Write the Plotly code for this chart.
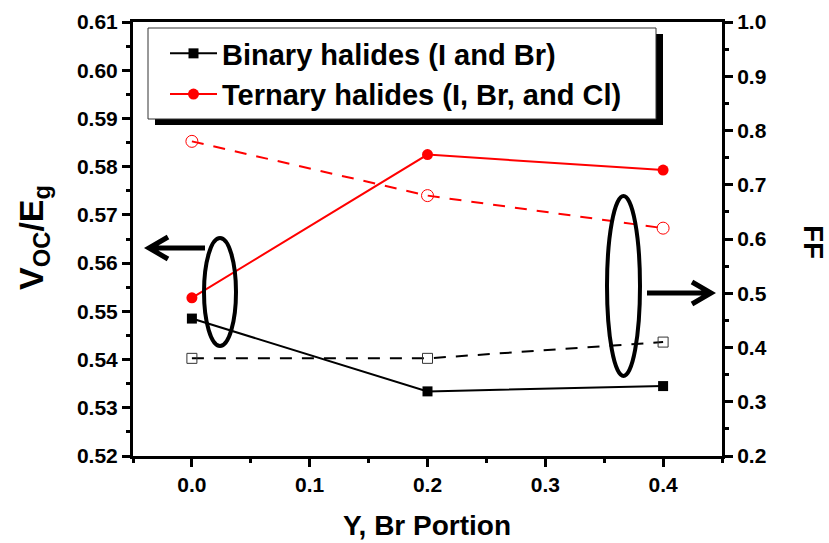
import plotly.graph_objects as go

# ---- data ----
br_portion = [0.0, 0.2, 0.4]
binary_voc_eg = [0.5485, 0.5334, 0.5345]
ternary_voc_eg = [0.5528, 0.5825, 0.5793]
binary_ff = [0.38, 0.38, 0.41]
ternary_ff = [0.78, 0.68, 0.62]
series_names = ["Binary halides (I and Br)", "Ternary halides (I, Br, and Cl)"]
x_ticks = [0.0, 0.1, 0.2, 0.3, 0.4]
x_ticklabels = ["0.0", "0.1", "0.2", "0.3", "0.4"]
left_ticks = [0.52, 0.53, 0.54, 0.55, 0.56, 0.57, 0.58, 0.59, 0.60, 0.61]
left_ticklabels = ["0.52", "0.53", "0.54", "0.55", "0.56", "0.57", "0.58", "0.59", "0.60", "0.61"]
right_ticks = [0.2, 0.3, 0.4, 0.5, 0.6, 0.7, 0.8, 0.9, 1.0]
right_ticklabels = ["0.2", "0.3", "0.4", "0.5", "0.6", "0.7", "0.8", "0.9", "1.0"]

W, H = 829, 543
L, R, T, B = 133, 107, 22, 87
PW, PH = W - L - R, H - T - B

def px(xp):
    return (xp - L) / PW

def py(yp):
    return (H - B - yp) / PH

def bold(labels):
    return [f"<b>{s}</b>" for s in labels]

FONT = "Liberation Sans, Arial, sans-serif"

fig = go.Figure()
fig.add_trace(go.Scatter(
    x=br_portion, y=binary_voc_eg, name=f"<b>{series_names[0]}</b>", mode="lines+markers",
    line=dict(color="black", width=2),
    marker=dict(symbol="square", size=10, color="black"),
    legendgroup="a"))
fig.add_trace(go.Scatter(
    x=br_portion, y=ternary_voc_eg, name=f"<b>{series_names[1]}</b>", mode="lines+markers",
    line=dict(color="#ff0000", width=2),
    marker=dict(symbol="circle", size=11, color="#ff0000"),
    legendgroup="b"))
fig.add_trace(go.Scatter(
    x=br_portion, y=binary_ff, yaxis="y2", mode="lines+markers", showlegend=False,
    line=dict(color="black", width=2, dash="12px,10px"),
    marker=dict(symbol="square-open", size=10, color="#333333", line=dict(width=1))))
fig.add_trace(go.Scatter(
    x=br_portion, y=ternary_ff, yaxis="y2", mode="lines+markers", showlegend=False,
    line=dict(color="#ff0000", width=2, dash="12px,10px"),
    marker=dict(symbol="circle-open", size=12, color="#ff0000", line=dict(width=1))))

def axis_common():
    return dict(showline=True, linecolor="black", linewidth=3, ticks="outside",
                ticklen=8, tickwidth=3, tickcolor="black", showgrid=False,
                zeroline=False, tickfont=dict(family=FONT, size=21, color="black"),
                tickmode="array", automargin=False)

fig.update_layout(
    width=W, height=H,
    margin=dict(l=L, r=R, t=T, b=B),
    font=dict(family=FONT, size=21, color="black"),
    paper_bgcolor="white", plot_bgcolor="white",
    xaxis=dict(range=[-0.05, 0.45], tickvals=x_ticks, ticktext=bold(x_ticklabels),
               mirror=True,
               minor=dict(dtick=0.05, tick0=0, ticklen=4, tickwidth=3, tickcolor="black", ticks="outside"),
               **axis_common()),
    yaxis=dict(range=[0.52, 0.61], tickvals=left_ticks, ticktext=bold(left_ticklabels),
               minor=dict(dtick=0.005, tick0=0.52, ticklen=4, tickwidth=3, tickcolor="black", ticks="outside"),
               **axis_common()),
    yaxis2=dict(range=[0.2, 1.0], tickvals=right_ticks, ticktext=bold(right_ticklabels),
                overlaying="y", side="right", anchor="x",
                minor=dict(dtick=0.05, tick0=0.2, ticklen=4, tickwidth=3, tickcolor="black", ticks="outside"),
                **axis_common()),
    legend=dict(x=px(165), y=py(28), xanchor="left", yanchor="top",
                bgcolor="rgba(0,0,0,0)", borderwidth=0, itemwidth=47,
                traceorder="grouped", tracegroupgap=0,
                font=dict(family=FONT, size=29, color="black")),
    showlegend=True,
)

shapes = []
# legend shadow and frame
shapes.append(dict(type="rect", xref="paper", yref="paper", x0=px(155), x1=px(663),
                   y0=py(125), y1=py(34), fillcolor="black", line=dict(width=0), layer="above"))
shapes.append(dict(type="rect", xref="paper", yref="paper", x0=px(148), x1=px(656),
                   y0=py(119), y1=py(28), fillcolor="white", line=dict(width=1, color="#333333"), layer="above"))
# ellipses
shapes.append(dict(type="circle", xref="paper", yref="paper", x0=px(204), x1=px(236),
                   y0=py(346), y1=py(238), line=dict(width=4, color="black")))
shapes.append(dict(type="circle", xref="paper", yref="paper", x0=px(607), x1=px(640),
                   y0=py(376), y1=py(196), line=dict(width=4, color="black")))

def arrow(x_from, x_to, y, arm_x):
    path = (f"M{px(x_from)},{py(y)} L{px(x_to)},{py(y)} "
            f"M{px(arm_x)},{py(y - 11)} L{px(x_to)},{py(y)} L{px(arm_x)},{py(y + 11)}")
    return dict(type="path", xref="paper", yref="paper", path=path,
                line=dict(width=5, color="black"))

shapes.append(arrow(205, 149, 248, 168))
shapes.append(arrow(647, 711, 293, 692))
fig.update_layout(shapes=shapes)

fig.add_annotation(text="<b>Y, Br Portion</b>", xref="paper", yref="paper",
                   x=px(427), y=py(525), xanchor="center", yanchor="middle",
                   showarrow=False, font=dict(family=FONT, size=28, color="black"))
fig.add_annotation(text="<b>V<sub>OC</sub>/E<sub>g</sub></b>", xref="paper", yref="paper",
                   x=px(34), y=py(238), xanchor="center", yanchor="middle", textangle=-90,
                   showarrow=False, font=dict(family=FONT, size=34, color="black"))
fig.add_annotation(text="<b>FF</b>", xref="paper", yref="paper",
                   x=px(814), y=py(242), xanchor="center", yanchor="middle", textangle=90,
                   showarrow=False, font=dict(family=FONT, size=28, color="black"))

fig.write_html("out.html")
